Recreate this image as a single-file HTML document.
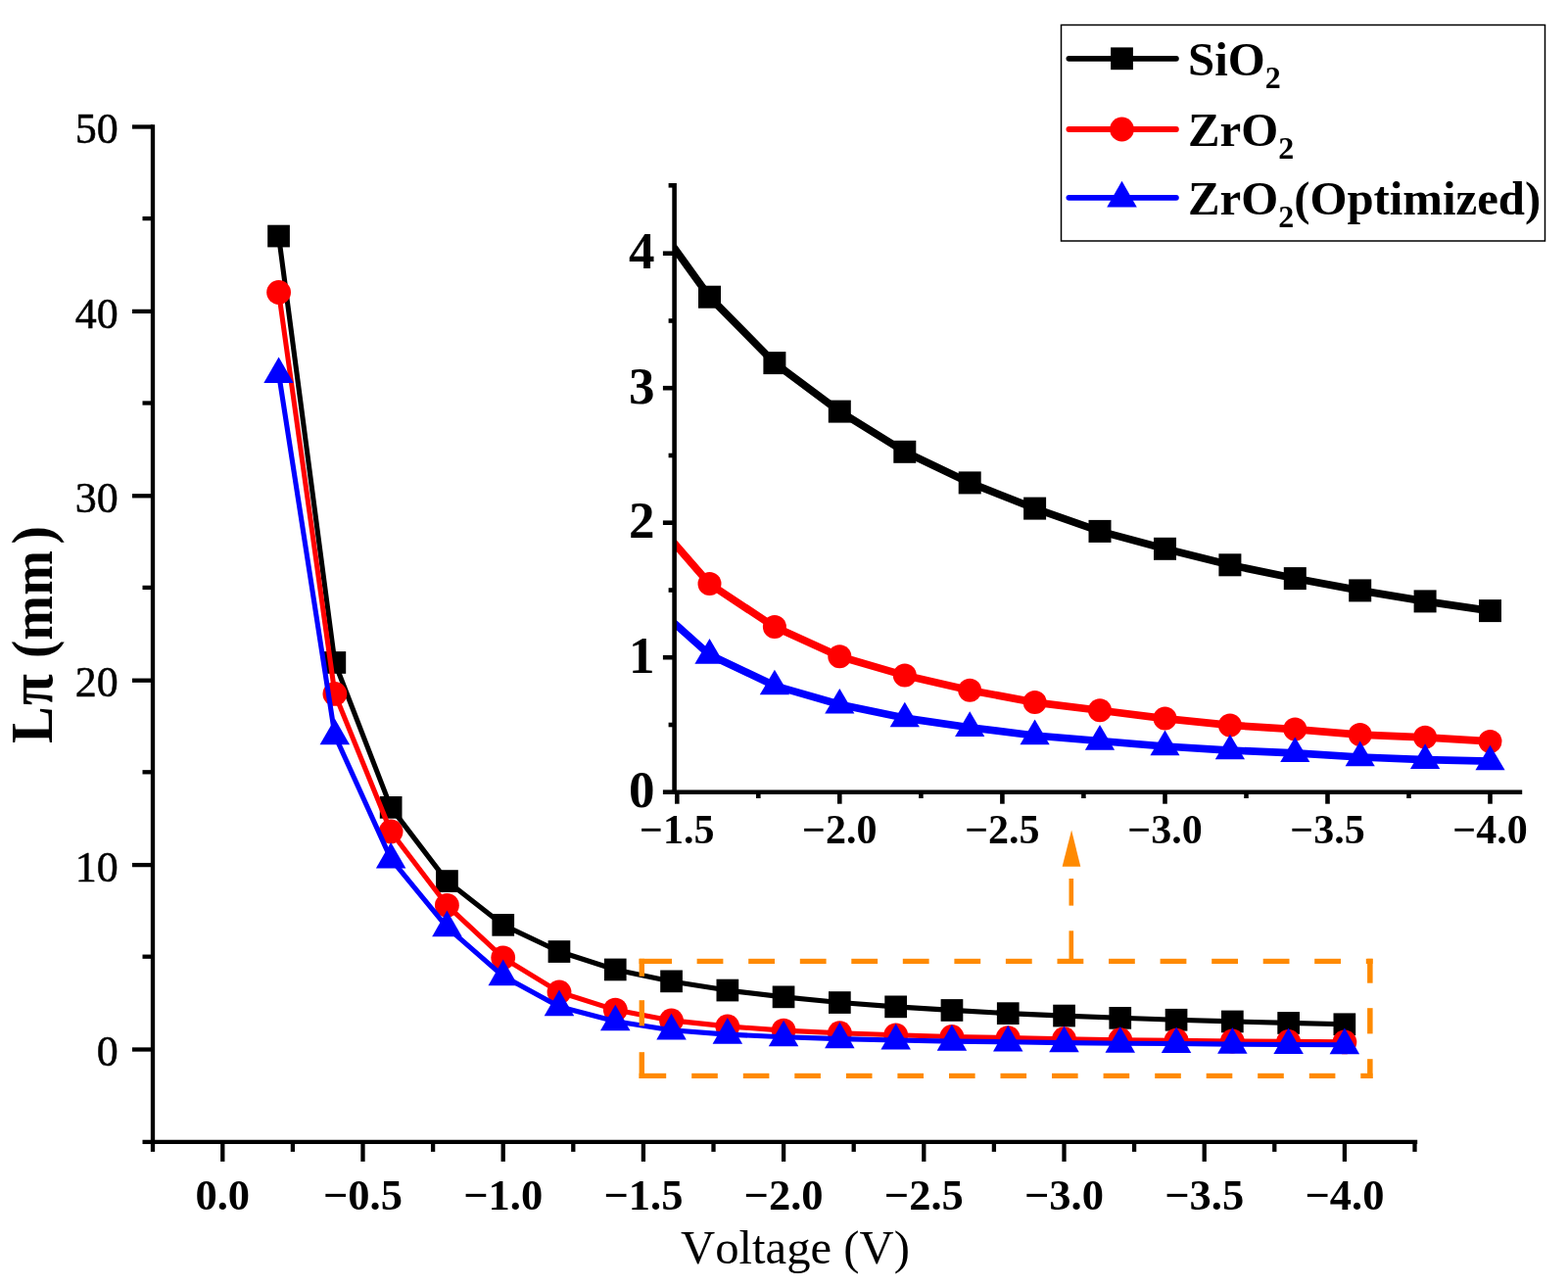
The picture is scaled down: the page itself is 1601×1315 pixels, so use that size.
<!DOCTYPE html>
<html lang="en">
<head>
<meta charset="utf-8">
<title>Lπ versus Voltage</title>
<style>
html,body{margin:0;padding:0;background:#fff;}
body{width:1601px;height:1315px;overflow:hidden;font-family:"Liberation Serif",serif;}
svg{display:block;}
</style>
</head>
<body>
<svg width="1601" height="1315" viewBox="0 0 1601 1315">
<defs><clipPath id="insetclip"><rect x="688.6" y="150" width="900" height="658.7"/></clipPath></defs>
<rect width="1601" height="1315" fill="#fff"/>
<g id="main-series">
<polyline points="284.6,241.1 341.9,676.5 399.1,824.4 456.4,899.6 513.7,944.4 571.0,971.5 628.3,990.0 685.5,1001.9 742.8,1011.1 800.1,1017.9 857.4,1023.5 914.7,1027.9 971.9,1031.4 1029.2,1034.6 1086.5,1037.1 1143.8,1039.3 1201.1,1041.2 1258.3,1042.9 1315.6,1044.4 1372.9,1045.8" fill="none" stroke="#000" stroke-width="5.1" stroke-linejoin="round" stroke-linecap="round"/>
<rect x="273.2" y="229.7" width="22.7" height="22.7" fill="#000"/>
<rect x="330.5" y="665.1" width="22.7" height="22.7" fill="#000"/>
<rect x="387.8" y="813.0" width="22.7" height="22.7" fill="#000"/>
<rect x="445.1" y="888.2" width="22.7" height="22.7" fill="#000"/>
<rect x="502.4" y="933.0" width="22.7" height="22.7" fill="#000"/>
<rect x="559.6" y="960.2" width="22.7" height="22.7" fill="#000"/>
<rect x="616.9" y="978.6" width="22.7" height="22.7" fill="#000"/>
<rect x="674.2" y="990.5" width="22.7" height="22.7" fill="#000"/>
<rect x="731.5" y="999.7" width="22.7" height="22.7" fill="#000"/>
<rect x="788.7" y="1006.5" width="22.7" height="22.7" fill="#000"/>
<rect x="846.0" y="1012.2" width="22.7" height="22.7" fill="#000"/>
<rect x="903.3" y="1016.5" width="22.7" height="22.7" fill="#000"/>
<rect x="960.6" y="1020.1" width="22.7" height="22.7" fill="#000"/>
<rect x="1017.9" y="1023.3" width="22.7" height="22.7" fill="#000"/>
<rect x="1075.2" y="1025.7" width="22.7" height="22.7" fill="#000"/>
<rect x="1132.4" y="1028.0" width="22.7" height="22.7" fill="#000"/>
<rect x="1189.7" y="1029.9" width="22.7" height="22.7" fill="#000"/>
<rect x="1247.0" y="1031.6" width="22.7" height="22.7" fill="#000"/>
<rect x="1304.3" y="1033.1" width="22.7" height="22.7" fill="#000"/>
<rect x="1361.5" y="1034.4" width="22.7" height="22.7" fill="#000"/>
<polyline points="284.6,298.5 341.9,708.4 399.1,849.0 456.4,924.3 513.7,977.8 571.0,1012.9 628.3,1031.1 685.5,1041.9 742.8,1047.9 800.1,1052.1 857.4,1054.7 914.7,1056.8 971.9,1058.5 1029.2,1059.6 1086.5,1060.7 1143.8,1061.7 1201.1,1062.2 1258.3,1063.0 1315.6,1063.4 1372.9,1063.9" fill="none" stroke="#ff0000" stroke-width="5.1" stroke-linejoin="round" stroke-linecap="round"/>
<circle cx="284.6" cy="298.5" r="12.40" fill="#ff0000"/>
<circle cx="341.9" cy="708.4" r="12.40" fill="#ff0000"/>
<circle cx="399.1" cy="849.0" r="12.40" fill="#ff0000"/>
<circle cx="456.4" cy="924.3" r="12.40" fill="#ff0000"/>
<circle cx="513.7" cy="977.8" r="12.40" fill="#ff0000"/>
<circle cx="571.0" cy="1012.9" r="12.40" fill="#ff0000"/>
<circle cx="628.3" cy="1031.1" r="12.40" fill="#ff0000"/>
<circle cx="685.5" cy="1041.9" r="12.40" fill="#ff0000"/>
<circle cx="742.8" cy="1047.9" r="12.40" fill="#ff0000"/>
<circle cx="800.1" cy="1052.1" r="12.40" fill="#ff0000"/>
<circle cx="857.4" cy="1054.7" r="12.40" fill="#ff0000"/>
<circle cx="914.7" cy="1056.8" r="12.40" fill="#ff0000"/>
<circle cx="971.9" cy="1058.5" r="12.40" fill="#ff0000"/>
<circle cx="1029.2" cy="1059.6" r="12.40" fill="#ff0000"/>
<circle cx="1086.5" cy="1060.7" r="12.40" fill="#ff0000"/>
<circle cx="1143.8" cy="1061.7" r="12.40" fill="#ff0000"/>
<circle cx="1201.1" cy="1062.2" r="12.40" fill="#ff0000"/>
<circle cx="1258.3" cy="1063.0" r="12.40" fill="#ff0000"/>
<circle cx="1315.6" cy="1063.4" r="12.40" fill="#ff0000"/>
<circle cx="1372.9" cy="1063.9" r="12.40" fill="#ff0000"/>
<polyline points="284.6,381.5 341.9,750.7 399.1,876.9 456.4,946.7 513.7,996.6 571.0,1027.7 628.3,1042.7 685.5,1051.8 742.8,1056.1 800.1,1058.8 857.4,1060.6 914.7,1062.0 971.9,1063.1 1029.2,1063.8 1086.5,1064.6 1143.8,1065.2 1201.1,1065.5 1258.3,1066.1 1315.6,1066.5 1372.9,1066.7" fill="none" stroke="#0000ff" stroke-width="5.1" stroke-linejoin="round" stroke-linecap="round"/>
<polygon points="284.6,364.4 299.8,391.0 269.3,391.0" fill="#0000ff"/>
<polygon points="341.9,733.7 357.1,760.3 326.6,760.3" fill="#0000ff"/>
<polygon points="399.1,859.9 414.4,886.5 383.9,886.5" fill="#0000ff"/>
<polygon points="456.4,929.6 471.7,956.2 441.2,956.2" fill="#0000ff"/>
<polygon points="513.7,979.6 529.0,1006.2 498.5,1006.2" fill="#0000ff"/>
<polygon points="571.0,1010.6 586.2,1037.2 555.7,1037.2" fill="#0000ff"/>
<polygon points="628.3,1025.7 643.5,1052.3 613.0,1052.3" fill="#0000ff"/>
<polygon points="685.5,1034.8 700.8,1061.4 670.3,1061.4" fill="#0000ff"/>
<polygon points="742.8,1039.1 758.1,1065.7 727.6,1065.7" fill="#0000ff"/>
<polygon points="800.1,1041.7 815.3,1068.3 784.8,1068.3" fill="#0000ff"/>
<polygon points="857.4,1043.6 872.6,1070.2 842.1,1070.2" fill="#0000ff"/>
<polygon points="914.7,1044.9 929.9,1071.5 899.4,1071.5" fill="#0000ff"/>
<polygon points="971.9,1046.1 987.2,1072.7 956.7,1072.7" fill="#0000ff"/>
<polygon points="1029.2,1046.8 1044.5,1073.4 1014.0,1073.4" fill="#0000ff"/>
<polygon points="1086.5,1047.6 1101.8,1074.2 1071.2,1074.2" fill="#0000ff"/>
<polygon points="1143.8,1048.1 1159.0,1074.7 1128.5,1074.7" fill="#0000ff"/>
<polygon points="1201.1,1048.5 1216.3,1075.1 1185.8,1075.1" fill="#0000ff"/>
<polygon points="1258.3,1049.1 1273.6,1075.7 1243.1,1075.7" fill="#0000ff"/>
<polygon points="1315.6,1049.5 1330.9,1076.1 1300.4,1076.1" fill="#0000ff"/>
<polygon points="1372.9,1049.6 1388.1,1076.2 1357.6,1076.2" fill="#0000ff"/>
</g>
<g id="zoom-box">
<rect x="652.6" y="978.8" width="33.4" height="5.2" fill="#ff8a00"/>
<rect x="711.6" y="978.8" width="26.8" height="5.2" fill="#ff8a00"/>
<rect x="764.2" y="978.8" width="26.8" height="5.2" fill="#ff8a00"/>
<rect x="816.8" y="978.8" width="26.8" height="5.2" fill="#ff8a00"/>
<rect x="869.3" y="978.8" width="26.8" height="5.2" fill="#ff8a00"/>
<rect x="921.8" y="978.8" width="26.8" height="5.2" fill="#ff8a00"/>
<rect x="974.4" y="978.8" width="26.8" height="5.2" fill="#ff8a00"/>
<rect x="1026.9" y="978.8" width="26.8" height="5.2" fill="#ff8a00"/>
<rect x="1079.5" y="978.8" width="26.8" height="5.2" fill="#ff8a00"/>
<rect x="1132.0" y="978.8" width="26.8" height="5.2" fill="#ff8a00"/>
<rect x="1184.6" y="978.8" width="26.8" height="5.2" fill="#ff8a00"/>
<rect x="1237.2" y="978.8" width="26.8" height="5.2" fill="#ff8a00"/>
<rect x="1289.7" y="978.8" width="26.8" height="5.2" fill="#ff8a00"/>
<rect x="1342.2" y="978.8" width="26.8" height="5.2" fill="#ff8a00"/>
<rect x="1394.8" y="978.8" width="6.8" height="5.2" fill="#ff8a00"/>
<rect x="652.6" y="1095.8" width="27.6" height="5.2" fill="#ff8a00"/>
<rect x="706.2" y="1095.8" width="26.6" height="5.2" fill="#ff8a00"/>
<rect x="758.8" y="1095.8" width="26.6" height="5.2" fill="#ff8a00"/>
<rect x="811.3" y="1095.8" width="26.6" height="5.2" fill="#ff8a00"/>
<rect x="863.9" y="1095.8" width="26.6" height="5.2" fill="#ff8a00"/>
<rect x="916.4" y="1095.8" width="26.6" height="5.2" fill="#ff8a00"/>
<rect x="969.0" y="1095.8" width="26.6" height="5.2" fill="#ff8a00"/>
<rect x="1021.5" y="1095.8" width="26.6" height="5.2" fill="#ff8a00"/>
<rect x="1074.0" y="1095.8" width="26.6" height="5.2" fill="#ff8a00"/>
<rect x="1126.6" y="1095.8" width="26.6" height="5.2" fill="#ff8a00"/>
<rect x="1179.2" y="1095.8" width="26.6" height="5.2" fill="#ff8a00"/>
<rect x="1231.7" y="1095.8" width="26.6" height="5.2" fill="#ff8a00"/>
<rect x="1284.2" y="1095.8" width="26.6" height="5.2" fill="#ff8a00"/>
<rect x="1336.8" y="1095.8" width="26.6" height="5.2" fill="#ff8a00"/>
<rect x="1389.3" y="1095.8" width="12.2" height="5.2" fill="#ff8a00"/>
<rect x="652.6" y="978.8" width="5.4" height="18.0" fill="#ff8a00"/>
<rect x="652.6" y="1021.2" width="5.4" height="26.2" fill="#ff8a00"/>
<rect x="652.6" y="1074.2" width="5.4" height="26.8" fill="#ff8a00"/>
<rect x="1396.1" y="978.8" width="5.5" height="24.9" fill="#ff8a00"/>
<rect x="1396.1" y="1029.2" width="5.5" height="26.2" fill="#ff8a00"/>
<rect x="1396.1" y="1081.2" width="5.5" height="19.8" fill="#ff8a00"/>
<rect x="1091.5" y="897.0" width="4.6" height="27.6" fill="#ff8a00"/>
<rect x="1091.5" y="950.3" width="4.6" height="29.5" fill="#ff8a00"/>
<polygon points="1094.1,847.5 1103.3,884.8 1084.6,884.8" fill="#ff8a00"/>
</g>
<g id="main-axes" stroke="#000" stroke-width="4.3" fill="none" stroke-linecap="butt">
<path d="M156.0 127.3 V1165.9 H1447.2"/>
<line x1="135.0" y1="1071.5" x2="156.0" y2="1071.5"/>
<line x1="135.0" y1="883.1" x2="156.0" y2="883.1"/>
<line x1="135.0" y1="694.7" x2="156.0" y2="694.7"/>
<line x1="135.0" y1="506.3" x2="156.0" y2="506.3"/>
<line x1="135.0" y1="317.9" x2="156.0" y2="317.9"/>
<line x1="135.0" y1="129.5" x2="156.0" y2="129.5"/>
<line x1="145.5" y1="1165.9" x2="156.0" y2="1165.9"/>
<line x1="145.5" y1="976.7" x2="156.0" y2="976.7"/>
<line x1="145.5" y1="788.3" x2="156.0" y2="788.3"/>
<line x1="145.5" y1="599.9" x2="156.0" y2="599.9"/>
<line x1="145.5" y1="411.5" x2="156.0" y2="411.5"/>
<line x1="145.5" y1="223.1" x2="156.0" y2="223.1"/>
<line x1="227.3" y1="1165.9" x2="227.3" y2="1185.9"/>
<line x1="370.5" y1="1165.9" x2="370.5" y2="1185.9"/>
<line x1="513.7" y1="1165.9" x2="513.7" y2="1185.9"/>
<line x1="656.9" y1="1165.9" x2="656.9" y2="1185.9"/>
<line x1="800.1" y1="1165.9" x2="800.1" y2="1185.9"/>
<line x1="943.3" y1="1165.9" x2="943.3" y2="1185.9"/>
<line x1="1086.5" y1="1165.9" x2="1086.5" y2="1185.9"/>
<line x1="1229.7" y1="1165.9" x2="1229.7" y2="1185.9"/>
<line x1="1372.9" y1="1165.9" x2="1372.9" y2="1185.9"/>
<line x1="156.0" y1="1165.9" x2="156.0" y2="1175.9"/>
<line x1="298.9" y1="1165.9" x2="298.9" y2="1175.9"/>
<line x1="442.1" y1="1165.9" x2="442.1" y2="1175.9"/>
<line x1="585.3" y1="1165.9" x2="585.3" y2="1175.9"/>
<line x1="728.5" y1="1165.9" x2="728.5" y2="1175.9"/>
<line x1="871.7" y1="1165.9" x2="871.7" y2="1175.9"/>
<line x1="1014.9" y1="1165.9" x2="1014.9" y2="1175.9"/>
<line x1="1158.1" y1="1165.9" x2="1158.1" y2="1175.9"/>
<line x1="1301.3" y1="1165.9" x2="1301.3" y2="1175.9"/>
<line x1="1444.5" y1="1165.9" x2="1444.5" y2="1175.9"/>
</g>
<g id="main-ylabels" font-family="'Liberation Serif', serif" font-size="44" text-anchor="end" fill="#000" stroke="#000" stroke-width="0.5">
<text transform="translate(120.7 1088.2) scale(1 1.01)">0</text>
<text transform="translate(120.7 899.8) scale(1 1.01)">10</text>
<text transform="translate(120.7 711.4) scale(1 1.01)">20</text>
<text transform="translate(120.7 523.0) scale(1 1.01)">30</text>
<text transform="translate(120.7 334.6) scale(1 1.01)">40</text>
<text transform="translate(120.7 146.2) scale(1 1.01)">50</text>
</g>
<g id="main-xlabels" font-family="'Liberation Serif', serif" font-weight="bold" font-size="44.5" text-anchor="middle" fill="#000">
<text x="227.3" y="1234.7">0.0</text>
<text x="370.5" y="1234.7">−0.5</text>
<text x="513.7" y="1234.7">−1.0</text>
<text x="656.9" y="1234.7">−1.5</text>
<text x="800.1" y="1234.7">−2.0</text>
<text x="943.3" y="1234.7">−2.5</text>
<text x="1086.5" y="1234.7">−3.0</text>
<text x="1229.7" y="1234.7">−3.5</text>
<text x="1372.9" y="1234.7">−4.0</text>
</g>
<text x="812.0" y="1289.5" font-family="'Liberation Serif', serif" font-size="48.7" text-anchor="middle" fill="#000" style="font-kerning:none">Voltage (V)</text>
<text transform="translate(53 760) rotate(-90) scale(1 1.08)" font-family="'Liberation Serif', serif" font-weight="bold" font-size="55" fill="#000"><tspan x="1.0" font-size="56.5">L</tspan><tspan x="40.0" font-size="58">π</tspan><tspan x="74.3"> (mm</tspan><tspan x="204.5">)</tspan></text>
<g id="inset-series">
<polyline points="658.1,211.1 724.5,303.2 790.9,370.6 857.3,420.1 923.8,461.3 990.2,492.9 1056.6,519.1 1123.0,542.4 1189.5,560.3 1255.9,576.8 1322.3,590.6 1388.7,602.9 1455.1,613.9 1521.5,623.6" fill="none" stroke="#000" stroke-width="7.7" stroke-linejoin="round" stroke-linecap="round" clip-path="url(#insetclip)"/>
<rect x="713.0" y="291.7" width="23.0" height="23.0" fill="#000"/>
<rect x="779.4" y="359.1" width="23.0" height="23.0" fill="#000"/>
<rect x="845.8" y="408.6" width="23.0" height="23.0" fill="#000"/>
<rect x="912.3" y="449.8" width="23.0" height="23.0" fill="#000"/>
<rect x="978.7" y="481.4" width="23.0" height="23.0" fill="#000"/>
<rect x="1045.1" y="507.6" width="23.0" height="23.0" fill="#000"/>
<rect x="1111.5" y="530.9" width="23.0" height="23.0" fill="#000"/>
<rect x="1178.0" y="548.8" width="23.0" height="23.0" fill="#000"/>
<rect x="1244.4" y="565.3" width="23.0" height="23.0" fill="#000"/>
<rect x="1310.8" y="579.1" width="23.0" height="23.0" fill="#000"/>
<rect x="1377.2" y="591.4" width="23.0" height="23.0" fill="#000"/>
<rect x="1443.6" y="602.4" width="23.0" height="23.0" fill="#000"/>
<rect x="1510.0" y="612.1" width="23.0" height="23.0" fill="#000"/>
<polyline points="658.1,519.9 724.5,596.1 790.9,640.1 857.3,670.3 923.8,689.6 990.2,704.7 1056.6,717.1 1123.0,725.3 1189.5,733.6 1255.9,740.4 1322.3,744.6 1388.7,750.1 1455.1,752.8 1521.5,756.9" fill="none" stroke="#ff0000" stroke-width="7.7" stroke-linejoin="round" stroke-linecap="round" clip-path="url(#insetclip)"/>
<circle cx="724.5" cy="596.1" r="12.00" fill="#ff0000"/>
<circle cx="790.9" cy="640.1" r="12.00" fill="#ff0000"/>
<circle cx="857.3" cy="670.3" r="12.00" fill="#ff0000"/>
<circle cx="923.8" cy="689.6" r="12.00" fill="#ff0000"/>
<circle cx="990.2" cy="704.7" r="12.00" fill="#ff0000"/>
<circle cx="1056.6" cy="717.1" r="12.00" fill="#ff0000"/>
<circle cx="1123.0" cy="725.3" r="12.00" fill="#ff0000"/>
<circle cx="1189.5" cy="733.6" r="12.00" fill="#ff0000"/>
<circle cx="1255.9" cy="740.4" r="12.00" fill="#ff0000"/>
<circle cx="1322.3" cy="744.6" r="12.00" fill="#ff0000"/>
<circle cx="1388.7" cy="750.1" r="12.00" fill="#ff0000"/>
<circle cx="1455.1" cy="752.8" r="12.00" fill="#ff0000"/>
<circle cx="1521.5" cy="756.9" r="12.00" fill="#ff0000"/>
<polyline points="658.1,609.3 724.5,668.5 790.9,700.1 857.3,719.3 923.8,733.1 990.2,742.7 1056.6,751.0 1123.0,756.5 1189.5,762.0 1255.9,766.1 1322.3,768.8 1388.7,773.0 1455.1,775.7 1521.5,777.1" fill="none" stroke="#0000ff" stroke-width="7.7" stroke-linejoin="round" stroke-linecap="round" clip-path="url(#insetclip)"/>
<polygon points="724.5,652.1 739.6,677.7 709.4,677.7" fill="#0000ff"/>
<polygon points="790.9,683.7 806.0,709.3 775.8,709.3" fill="#0000ff"/>
<polygon points="857.3,702.9 872.4,728.5 842.2,728.5" fill="#0000ff"/>
<polygon points="923.8,716.7 938.9,742.3 908.7,742.3" fill="#0000ff"/>
<polygon points="990.2,726.3 1005.3,751.9 975.1,751.9" fill="#0000ff"/>
<polygon points="1056.6,734.6 1071.7,760.2 1041.5,760.2" fill="#0000ff"/>
<polygon points="1123.0,740.1 1138.1,765.7 1107.9,765.7" fill="#0000ff"/>
<polygon points="1189.5,745.6 1204.5,771.2 1174.4,771.2" fill="#0000ff"/>
<polygon points="1255.9,749.7 1271.0,775.3 1240.8,775.3" fill="#0000ff"/>
<polygon points="1322.3,752.4 1337.4,778.0 1307.2,778.0" fill="#0000ff"/>
<polygon points="1388.7,756.6 1403.8,782.2 1373.6,782.2" fill="#0000ff"/>
<polygon points="1455.1,759.3 1470.2,784.9 1440.0,784.9" fill="#0000ff"/>
<polygon points="1521.5,760.7 1536.6,786.3 1506.5,786.3" fill="#0000ff"/>
</g>
<g id="inset-axes" stroke="#000" stroke-width="4.6" fill="none">
<path d="M688.6 187.0 V808.7 H1554.2"/>
<line x1="676.9" y1="808.7" x2="688.6" y2="808.7"/>
<line x1="676.9" y1="671.2" x2="688.6" y2="671.2"/>
<line x1="676.9" y1="533.7" x2="688.6" y2="533.7"/>
<line x1="676.9" y1="396.2" x2="688.6" y2="396.2"/>
<line x1="676.9" y1="258.7" x2="688.6" y2="258.7"/>
<line x1="682.6" y1="740.0" x2="688.6" y2="740.0"/>
<line x1="682.6" y1="602.5" x2="688.6" y2="602.5"/>
<line x1="682.6" y1="465.0" x2="688.6" y2="465.0"/>
<line x1="682.6" y1="327.5" x2="688.6" y2="327.5"/>
<line x1="682.6" y1="189.3" x2="688.6" y2="189.3"/>
<line x1="691.3" y1="808.7" x2="691.3" y2="820.7"/>
<line x1="857.3" y1="808.7" x2="857.3" y2="820.7"/>
<line x1="1023.4" y1="808.7" x2="1023.4" y2="820.7"/>
<line x1="1189.5" y1="808.7" x2="1189.5" y2="820.7"/>
<line x1="1355.5" y1="808.7" x2="1355.5" y2="820.7"/>
<line x1="1521.5" y1="808.7" x2="1521.5" y2="820.7"/>
<line x1="774.3" y1="808.7" x2="774.3" y2="815.0"/>
<line x1="940.4" y1="808.7" x2="940.4" y2="815.0"/>
<line x1="1106.4" y1="808.7" x2="1106.4" y2="815.0"/>
<line x1="1272.5" y1="808.7" x2="1272.5" y2="815.0"/>
<line x1="1438.5" y1="808.7" x2="1438.5" y2="815.0"/>
</g>
<g id="inset-ylabels" font-family="'Liberation Serif', serif" font-weight="bold" font-size="53" text-anchor="end" fill="#000">
<text x="668.6" y="824.3">0</text>
<text x="668.6" y="686.8">1</text>
<text x="668.6" y="549.3">2</text>
<text x="668.6" y="411.8">3</text>
<text x="668.6" y="274.3">4</text>
</g>
<g id="inset-xlabels" font-family="'Liberation Serif', serif" font-weight="bold" font-size="42" text-anchor="middle" fill="#000">
<text x="691.3" y="861.2">−1.5</text>
<text x="857.3" y="861.2">−2.0</text>
<text x="1023.4" y="861.2">−2.5</text>
<text x="1189.5" y="861.2">−3.0</text>
<text x="1355.5" y="861.2">−3.5</text>
<text x="1521.5" y="861.2">−4.0</text>
</g>
<g id="legend">
<rect x="1083.5" y="25.5" width="494" height="220.5" fill="#fff" stroke="#000" stroke-width="1.5"/>
<line x1="1091.4" y1="59.8" x2="1200.9" y2="59.8" stroke="#000" stroke-width="5.8" stroke-linecap="round"/>
<rect x="1134.1" y="48.4" width="22.8" height="22.8" fill="#000"/>
<text x="1213" y="76.8" font-family="'Liberation Serif', serif" font-weight="bold" font-size="48.8" fill="#000">SiO<tspan font-size="32" dy="13">2</tspan><tspan dy="-13"></tspan></text>
<line x1="1091.4" y1="132.0" x2="1200.9" y2="132.0" stroke="#ff0000" stroke-width="5.8" stroke-linecap="round"/>
<circle cx="1145.5" cy="132.0" r="12.40" fill="#ff0000"/>
<text x="1213" y="149.0" font-family="'Liberation Serif', serif" font-weight="bold" font-size="48.8" fill="#000">ZrO<tspan font-size="32" dy="13">2</tspan><tspan dy="-13"></tspan></text>
<line x1="1091.4" y1="201.8" x2="1200.9" y2="201.8" stroke="#0000ff" stroke-width="5.8" stroke-linecap="round"/>
<polygon points="1145.5,184.8 1160.8,211.4 1130.2,211.4" fill="#0000ff"/>
<text x="1213" y="218.8" font-family="'Liberation Serif', serif" font-weight="bold" font-size="48.8" fill="#000">ZrO<tspan font-size="32" dy="13">2</tspan><tspan dy="-13">(Optimized)</tspan></text>
</g>
</svg>
</body>
</html>
